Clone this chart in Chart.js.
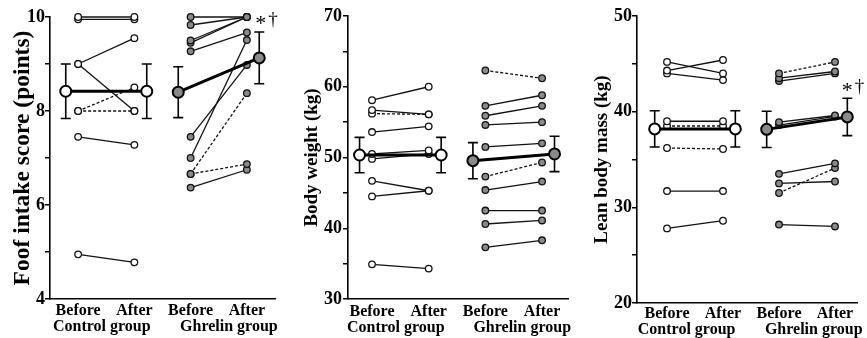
<!DOCTYPE html>
<html>
<head>
<meta charset="utf-8">
<script src="https://cdn.jsdelivr.net/npm/chart.js@4"></script>
<style>
  body { margin: 0; background: #fff; }
  .panel { position: absolute; top: 0; }
</style>
</head>
<body>
<div class="panel" style="left:0"><canvas id="intakeChart" width="290" height="338"></canvas></div>
<div class="panel" style="left:290px"><canvas id="weightChart" width="287" height="338"></canvas></div>
<div class="panel" style="left:577px"><canvas id="leanChart" width="290" height="338"></canvas></div>
<script>
// Axis text
const timeLabels = ['Before', 'After'];
const groupLabels = ['Control group', 'Ghrelin group'];
const sigMark = ['*', '\u2020'];

// Food intake score (points), one entry per subject
const intakeCtrlBefore = [10, 9.95, 9, 9, 8, 8, 7.45, 4.95];
const intakeCtrlAfter = [10, 9.95, 9.55, 8, 8.5, 8, 7.28, 4.78];
const intakeGhrBefore = [10, 9.83, 9.5, 9.45, 9.27, 7.45, 7.0, 6.66, 6.66, 6.37];
const intakeGhrAfter = [10, 10, 10, 10, 9.67, 8.98, 9.51, 8.38, 6.87, 6.75];
const intakeMean = [8.42, 8.42, 8.4, 9.13];
const intakeSd = [0.58, 0.58, 0.54, 0.55];

// Body weight (kg)
const weightCtrlBefore = [58.1, 56.7, 56.2, 53.6, 50.5, 49.8, 46.7, 44.5, 34.9];
const weightCtrlAfter = [60.0, 56.1, 56.1, 54.4, 51.0, 50.5, 45.3, 45.3, 34.3];
const weightGhrBefore = [62.3, 57.3, 55.9, 54.6, 51.5, 47.3, 45.4, 42.5, 40.6, 37.3];
const weightGhrAfter = [61.2, 58.8, 57.3, 55.0, 52.0, 49.3, 46.6, 42.5, 41.1, 38.3];
const weightMean = [50.35, 50.35, 49.55, 50.5];
const weightSd = [2.5, 2.5, 2.55, 2.5];

// Lean body mass (kg)
const leanCtrlBefore = [45.2, 44.3, 44.0, 39.0, 38.5, 36.2, 31.7, 27.8];
const leanCtrlAfter = [44.0, 45.4, 43.3, 39.0, 38.5, 36.1, 31.7, 28.6];
const leanGhrBefore = [44.0, 43.5, 43.2, 38.9, 38.6, 33.5, 32.5, 31.5, 28.2];
const leanGhrAfter = [45.2, 44.2, 44.0, 39.6, 39.5, 34.6, 32.7, 34.1, 28.0];
const leanMean = [38.2, 38.2, 38.15, 39.45];
const leanSd = [1.9, 1.9, 1.9, 1.95];

const MEAN_SHIFT = 0.22;
const FONT = "'Liberation Serif', 'Times New Roman', serif";
const GHRELIN_FILL = '#8a8a8a';

function subjectSets(before, after, x0, dashed, fill) {
  return before.map((b, i) => ({
    data: [{ x: x0, y: b }, { x: x0 + 1, y: after[i] }],
    borderColor: '#111',
    borderWidth: 1.3,
    borderDash: dashed.includes(i) ? [3, 2] : [],
    pointRadius: 3.3,
    pointBackgroundColor: fill,
    pointBorderColor: '#111',
    pointBorderWidth: 1.3,
    clip: false,
    order: 1
  }));
}

function meanSet(mean, x0, fill) {
  return {
    data: [{ x: x0 - MEAN_SHIFT, y: mean[0] }, { x: x0 + 1 + MEAN_SHIFT, y: mean[1] }],
    borderColor: '#000',
    borderWidth: 3,
    pointRadius: 5.5,
    pointBackgroundColor: fill,
    pointBorderColor: '#000',
    pointBorderWidth: 2,
    clip: false,
    order: 0
  };
}

// SD whiskers under the mean markers
function errorBars(mean, sd) {
  return {
    id: 'errorBars',
    beforeDatasetsDraw(chart) {
      const { ctx, scales: { x, y } } = chart;
      const xs = [1 - MEAN_SHIFT, 2 + MEAN_SHIFT, 3 - MEAN_SHIFT, 4 + MEAN_SHIFT];
      ctx.save();
      ctx.strokeStyle = '#000';
      ctx.lineWidth = 1.6;
      xs.forEach((xv, i) => {
        const px = x.getPixelForValue(xv);
        const top = y.getPixelForValue(mean[i] + sd[i]);
        const bot = y.getPixelForValue(mean[i] - sd[i]);
        ctx.beginPath();
        ctx.moveTo(px, top); ctx.lineTo(px, bot);
        ctx.moveTo(px - 5, top); ctx.lineTo(px + 5, top);
        ctx.moveTo(px - 5, bot); ctx.lineTo(px + 5, bot);
        ctx.stroke();
      });
      ctx.restore();
    }
  };
}

function sigPlugin(at) {
  return {
    id: 'sig',
    afterDatasetsDraw(chart) {
      if (!at) return;
      const { ctx, scales: { x, y } } = chart;
      const px = x.getPixelForValue(at.x);
      const py = y.getPixelForValue(at.y);
      ctx.save();
      ctx.fillStyle = '#000';
      ctx.textBaseline = 'middle';
      ctx.font = '22px ' + FONT;
      ctx.fillText(sigMark[0], px, py + 4);
      ctx.font = '19px ' + FONT;
      ctx.fillText(sigMark[1], px + 13, py);
      ctx.restore();
    }
  };
}

function buildChart(id, p) {
  const tickText = new Map([
    [1, timeLabels[0]], [2, timeLabels[1]], [3, timeLabels[0]], [4, timeLabels[1]],
    [p.groupAt[0], ['', groupLabels[0]]], [p.groupAt[1], ['', groupLabels[1]]]
  ]);
  const datasets = [
    meanSet(p.mean.slice(0, 2), 1, '#fff'),
    meanSet(p.mean.slice(2, 4), 3, GHRELIN_FILL),
    ...subjectSets(p.ctrlBefore, p.ctrlAfter, 1, p.ctrlDashed, '#fff'),
    ...subjectSets(p.ghrBefore, p.ghrAfter, 3, p.ghrDashed, GHRELIN_FILL)
  ];

  new Chart(document.getElementById(id), {
    type: 'line',
    data: { datasets },
    plugins: [errorBars(p.mean, p.sd), sigPlugin(p.sig)],
    options: {
      responsive: false,
      animation: false,
      events: [],
      layout: { padding: { top: p.top, right: p.right, left: 0, bottom: 0 } },
      elements: { line: { tension: 0 } },
      plugins: { legend: { display: false }, tooltip: { enabled: false } },
      scales: {
        x: {
          type: 'linear',
          min: p.xMin,
          max: p.xMax,
          afterBuildTicks: scale => {
            scale.ticks = [1, p.groupAt[0], 2, 3, p.groupAt[1], 4].map(v => ({ value: v }));
          },
          afterFit: scale => { scale.height = p.xHeight; },
          grid: { display: false, drawTicks: false },
          border: { color: '#000', width: 1.6 },
          ticks: {
            autoSkip: false,
            maxRotation: 0,
            padding: p.xPad,
            color: '#000',
            font: { family: FONT, size: 16, weight: 'bold', lineHeight: 1 },
            callback: value => tickText.get(value) ?? ''
          }
        },
        y: {
          min: p.yMin,
          max: p.yMax,
          afterFit: scale => { scale.width = p.yWidth; },
          grid: { display: true, drawOnChartArea: false, drawTicks: true, tickLength: 5, color: '#000', lineWidth: 1.5 },
          border: { color: '#000', width: 1.6 },
          ticks: {
            stepSize: p.yStep,
            padding: p.yPad,
            color: '#000',
            font: { family: FONT, size: 18, weight: 'bold' },
            callback: value => (value % p.labelEvery === 0 ? String(value) : '')
          },
          title: {
            display: true,
            text: p.title,
            color: '#000',
            padding: { top: p.titlePad, bottom: 0 },
            font: { family: FONT, size: p.titleSize, weight: 'bold', lineHeight: 1 }
          }
        }
      }
    }
  });
}

buildChart('intakeChart', {
  ctrlBefore: intakeCtrlBefore, ctrlAfter: intakeCtrlAfter, ctrlDashed: [4, 5],
  ghrBefore: intakeGhrBefore, ghrAfter: intakeGhrAfter, ghrDashed: [7, 8],
  mean: intakeMean, sd: intakeSd,
  yMin: 4, yMax: 10, yStep: 1, labelEvery: 2,
  title: 'Foof intake score (points)', titleSize: 23.5, titlePad: 11,
  xMin: 0.5, xMax: 4.5, groupAt: [1.42, 3.68],
  yWidth: 50, right: 15, top: 17, xHeight: 39, xPad: 4, yPad: 0,
  sig: { x: 4.15, y: 9.93 }
});

buildChart('weightChart', {
  ctrlBefore: weightCtrlBefore, ctrlAfter: weightCtrlAfter, ctrlDashed: [2],
  ghrBefore: weightGhrBefore, ghrAfter: weightGhrAfter, ghrDashed: [0, 5],
  mean: weightMean, sd: weightSd,
  yMin: 30, yMax: 70, yStep: 5, labelEvery: 10,
  title: 'Body weight (kg)', titleSize: 19, titlePad: 12.5,
  xMin: 0.576, xMax: 4.458, groupAt: [1.42, 3.65],
  yWidth: 58, right: 9, top: 16, xHeight: 39, xPad: 5, yPad: 1,
  sig: null
});

buildChart('leanChart', {
  ctrlBefore: leanCtrlBefore, ctrlAfter: leanCtrlAfter, ctrlDashed: [4, 5],
  ghrBefore: leanGhrBefore, ghrAfter: leanGhrAfter, ghrDashed: [0, 7],
  mean: leanMean, sd: leanSd,
  yMin: 20, yMax: 50, yStep: 5, labelEvery: 10,
  title: 'Lean body mass (kg)', titleSize: 19, titlePad: 15.5,
  xMin: 0.464, xMax: 4.393, groupAt: [1.35, 3.62],
  yWidth: 60, right: 10, top: 16, xHeight: 35, xPad: 3, yPad: 0,
  sig: { x: 4.12, y: 42.55 }
});
</script>
</body>
</html>
